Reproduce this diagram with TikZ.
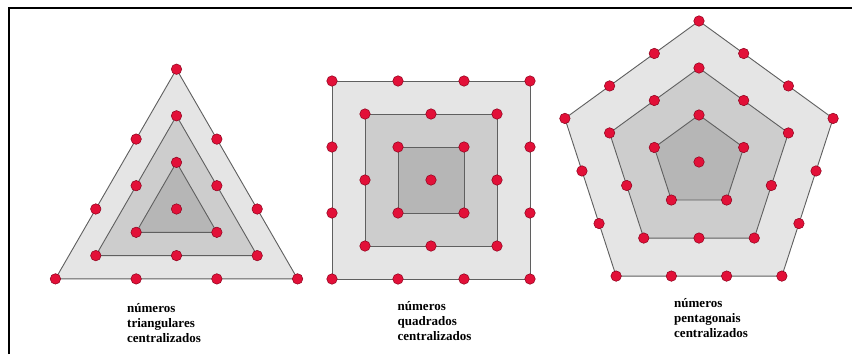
\documentclass[tikz,border=0pt]{standalone}
\usepackage{fontspec}
\setmainfont{Liberation Serif}
\usetikzlibrary{calc}
\definecolor{dotred}{RGB}{226,16,56}
\definecolor{dotedge}{RGB}{140,0,28}
\definecolor{edgegray}{RGB}{95,95,95}
\definecolor{fillA}{RGB}{229,229,229}
\definecolor{fillB}{RGB}{205,205,205}
\definecolor{fillC}{RGB}{182,182,182}
\begin{document}
\begin{tikzpicture}[x=1pt,y=-1pt,
  dot/.style={circle,fill=dotred,draw=dotedge,line width=0.5pt,minimum size=10.5pt,inner sep=0pt},
  layer/.style={draw=edgegray,line width=0.9pt,line join=miter},
  lab/.style={font=\bfseries\fontsize{13}{15}\selectfont,align=left,anchor=north west,inner sep=0pt},
  frame/.style={line width=2.5pt}]
\useasboundingbox (0,0) rectangle (852,354);
\fill[white] (0,0) rectangle (852,354);
\draw[frame] (9,354) -- (9,8) -- (852,8);

% ---------- triangle ----------
\coordinate (TC) at (176.5,209);
\foreach \k in {1,2,3} \foreach \i in {0,1,2}
  \coordinate (T\k-\i) at ($(TC)+(-90-120*\i:46.6*\k)$);
\foreach \k/\c in {3/fillA,2/fillB,1/fillC}
  \draw[layer,fill=\c] (T\k-0) -- (T\k-1) -- (T\k-2) -- cycle;

% ---------- square ----------
\coordinate (SC) at (431,180);
\foreach \k in {1,2,3} \foreach \i in {0,1,2,3}
  \coordinate (S\k-\i) at ($(SC)+(-45-90*\i:46.67*\k)$);
\foreach \k/\c in {3/fillA,2/fillB,1/fillC}
  \draw[layer,fill=\c] (S\k-0) -- (S\k-1) -- (S\k-2) -- (S\k-3) -- cycle;

% ---------- pentagon ----------
\coordinate (PC) at (699,162);
\foreach \k in {1,2,3} \foreach \i in {0,1,2,3,4}
  \coordinate (P\k-\i) at ($(PC)+(-90-72*\i:47*\k)$);
\foreach \k/\c in {3/fillA,2/fillB,1/fillC}
  \draw[layer,fill=\c] (P\k-0) -- (P\k-1) -- (P\k-2) -- (P\k-3) -- (P\k-4) -- cycle;

% ---------- dots ----------
\node[dot] (t0) at (TC) {};
\node[dot] (s0) at (SC) {};
\node[dot] (p0) at (PC) {};
\foreach \k in {1,2,3} \foreach \i in {0,1,2} \foreach \j in {1,...,\k} {
  \pgfmathtruncatemacro\nx{mod(\i+1,3)}
  \pgfmathsetmacro\fr{(\j-1)/\k}
  \node[dot] (t\k-\i-\j) at ($(T\k-\i)!\fr!(T\k-\nx)$) {};
}
\foreach \k in {1,2,3} \foreach \i in {0,1,2,3} \foreach \j in {1,...,\k} {
  \pgfmathtruncatemacro\nx{mod(\i+1,4)}
  \pgfmathsetmacro\fr{(\j-1)/\k}
  \node[dot] (s\k-\i-\j) at ($(S\k-\i)!\fr!(S\k-\nx)$) {};
}
\foreach \k in {1,2,3} \foreach \i in {0,1,2,3,4} \foreach \j in {1,...,\k} {
  \pgfmathtruncatemacro\nx{mod(\i+1,5)}
  \pgfmathsetmacro\fr{(\j-1)/\k}
  \node[dot] (p\k-\i-\j) at ($(P\k-\i)!\fr!(P\k-\nx)$) {};
}

% ---------- labels ----------
\node[lab] (lt) at (127,303) {números\\triangulares\\centralizados};
\node[lab] (ls) at (397.5,301.5) {números\\quadrados\\centralizados};
\node[lab] (lp) at (674,298) {números\\pentagonais\\centralizados};
\end{tikzpicture}
\end{document}
